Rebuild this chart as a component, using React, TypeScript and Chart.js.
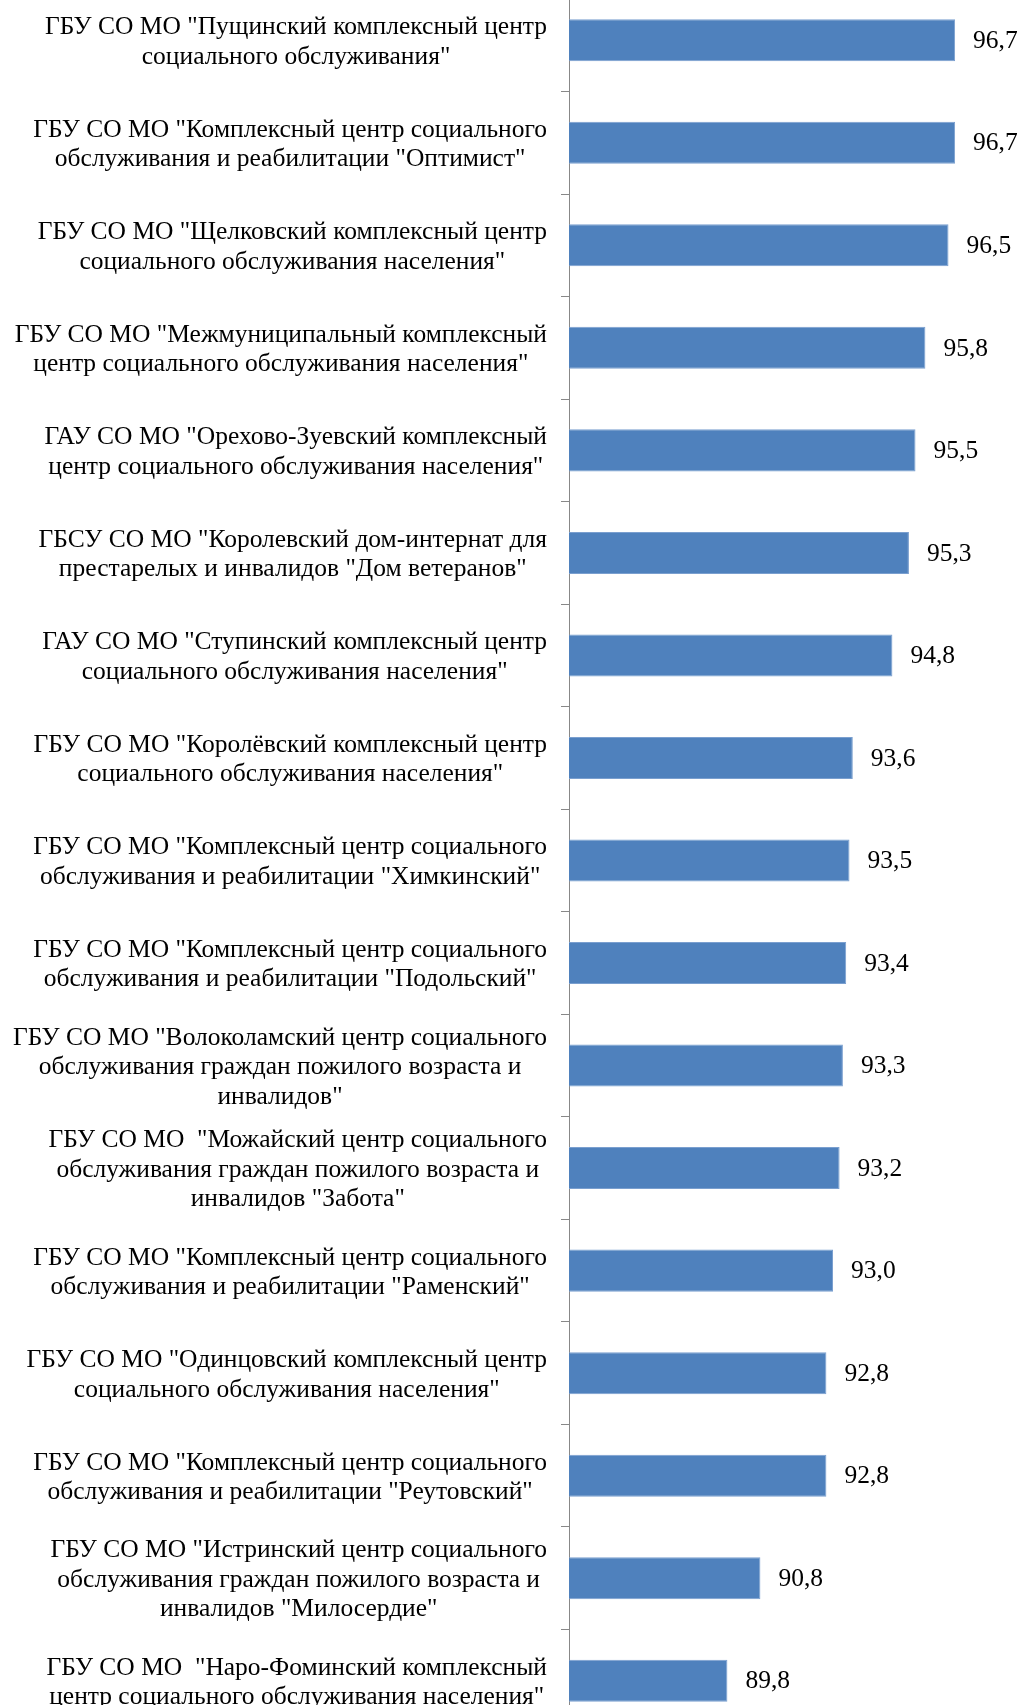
import React, { useEffect, useRef } from "react";
import { Chart, registerables } from "chart.js";

Chart.register(...registerables);

const categories: string[][] = [
  ["ГБУ СО МО \"Пущинский комплексный центр", "социального обслуживания\""],
  ["ГБУ СО МО \"Комплексный центр социального", "обслуживания и реабилитации \"Оптимист\""],
  ["ГБУ СО МО \"Щелковский комплексный центр", "социального обслуживания населения\""],
  ["ГБУ СО МО \"Межмуниципальный комплексный", "центр социального обслуживания населения\""],
  ["ГАУ СО МО \"Орехово-Зуевский комплексный", "центр социального обслуживания населения\""],
  ["ГБСУ СО МО \"Королевский дом-интернат для", "престарелых и инвалидов \"Дом ветеранов\""],
  ["ГАУ СО МО \"Ступинский комплексный центр", "социального обслуживания населения\""],
  ["ГБУ СО МО \"Королёвский комплексный центр", "социального обслуживания населения\""],
  ["ГБУ СО МО \"Комплексный центр социального", "обслуживания и реабилитации \"Химкинский\""],
  ["ГБУ СО МО \"Комплексный центр социального", "обслуживания и реабилитации \"Подольский\""],
  ["ГБУ СО МО \"Волоколамский центр социального", "обслуживания граждан пожилого возраста и", "инвалидов\""],
  ["ГБУ СО МО  \"Можайский центр социального", "обслуживания граждан пожилого возраста и", "инвалидов \"Забота\""],
  ["ГБУ СО МО \"Комплексный центр социального", "обслуживания и реабилитации \"Раменский\""],
  ["ГБУ СО МО \"Одинцовский комплексный центр", "социального обслуживания населения\""],
  ["ГБУ СО МО \"Комплексный центр социального", "обслуживания и реабилитации \"Реутовский\""],
  ["ГБУ СО МО \"Истринский центр социального", "обслуживания граждан пожилого возраста и", "инвалидов \"Милосердие\""],
  ["ГБУ СО МО  \"Наро-Фоминский комплексный", "центр социального обслуживания населения\""],
];

const values: number[] = [
  96.7, 96.7, 96.5, 95.8, 95.5, 95.3, 94.8, 93.6, 93.5, 93.4, 93.3, 93.2, 93.0, 92.8, 92.8, 90.8, 89.8,
];

const xMin = 85;
const xMax = 98;

const FONT = '25.5px "Liberation Serif", "Times New Roman", serif';

const labelsPlugin = {
  id: "customLabels",
  afterDraw(chart: any) {
    const ctx = chart.ctx as CanvasRenderingContext2D;
    const yScale = chart.scales.y;
    const area = chart.chartArea;
    ctx.save();
    ctx.font = FONT;
    ctx.fillStyle = "#000";
    ctx.textBaseline = "middle";
    const lineH = 29.5;
    const rightEdge = area.left - 22;
    categories.forEach((lines, i) => {
      const y = yScale.getPixelForValue(i) + 2;
      const maxW = Math.max(...lines.map((l) => ctx.measureText(l).width));
      const cx = rightEdge - maxW / 2;
      ctx.textAlign = "center";
      lines.forEach((l, j) => {
        ctx.fillText(l, cx, y + (j - (lines.length - 1) / 2) * lineH);
      });
    });
    const meta = chart.getDatasetMeta(0);
    ctx.textAlign = "left";
    meta.data.forEach((el: any, i: number) => {
      const txt = values[i].toFixed(1).replace(".", ",");
      ctx.fillText(txt, el.x + 18, el.y + 1);
    });
    ctx.restore();
  },
};

export default function App() {
  const ref = useRef<HTMLCanvasElement | null>(null);
  useEffect(() => {
    if (!ref.current) return;
    const chart = new Chart(ref.current, {
      type: "bar",
      data: {
        labels: categories.map((c) => c.join(" ")),
        datasets: [
          {
            data: values,
            backgroundColor: "#4F81BD",
            borderColor: "#7A9FCF",
            borderWidth: 1,
            barPercentage: 0.41,
            categoryPercentage: 1,
          },
        ],
      },
      options: {
        indexAxis: "y",
        animation: false,
        responsive: true,
        maintainAspectRatio: false,
        layout: { padding: { left: 0, top: 0, bottom: 0, right: 21 } },
        plugins: {
          legend: { display: false },
          tooltip: { enabled: false },
          title: { display: false },
        },
        scales: {
          x: {
            display: false,
            min: xMin,
            max: xMax,
          },
          y: {
            ticks: { display: false },
            grid: {
              display: true,
              drawOnChartArea: false,
              drawTicks: true,
              tickLength: 8,
              color: "#888888",
              offset: true,
            },
            border: { display: true, color: "#888888", width: 1 },
            afterFit: (s: any) => {
              s.width = 569;
            },
          },
        },
      },
      plugins: [labelsPlugin],
    });
    return () => chart.destroy();
  }, []);

  return (
    <div
      style={{
        position: "fixed",
        left: 0,
        top: 0,
        width: 1019,
        height: 1705,
        overflow: "hidden",
        background: "#fff",
      }}
    >
      <div style={{ position: "absolute", left: 0, top: -11, width: 1019, height: 1743 }}>
        <canvas ref={ref} />
      </div>
    </div>
  );
}
